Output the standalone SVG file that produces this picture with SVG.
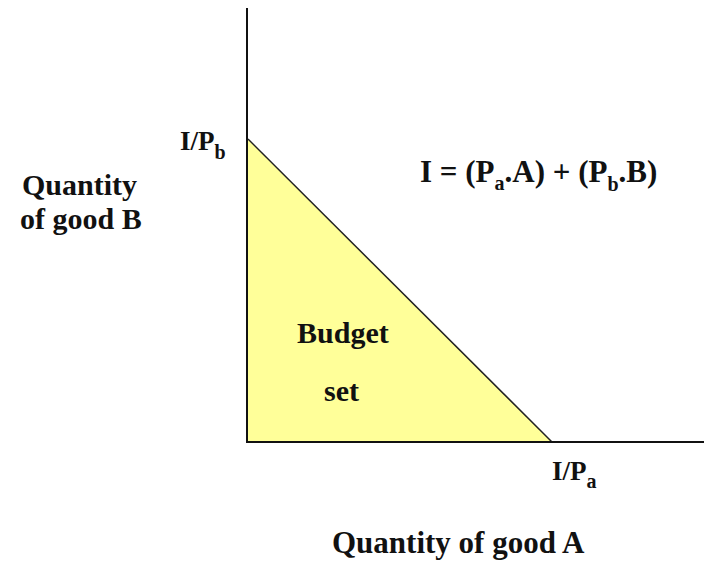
<svg xmlns="http://www.w3.org/2000/svg" width="704" height="561" viewBox="0 0 704 561">
<style>
text{font-family:'Liberation Serif','Times New Roman',serif;font-weight:700;fill:#111}
.sub{font-size:20px}
.ax{stroke:#111;stroke-width:2;fill:none}
</style>
<rect width="704" height="561" fill="#fff"/>
<g id="budget-set">
<polygon points="248,139 248,442 552,442" fill="#ffff99"/>
<line x1="248" y1="139" x2="552" y2="442" stroke="#222" stroke-width="1.5"/>
<text x="297" y="343" font-size="30">Budget</text>
<text x="324" y="401" font-size="30">set</text>
</g>
<g id="axes">
<line class="ax" x1="247" y1="8" x2="247" y2="443"/>
<line class="ax" x1="246" y1="442" x2="704" y2="442"/>
</g>
<g id="label-ipb">
<text x="180" y="150" font-size="27">I/P<tspan class="sub" font-size="19" dy="9">b</tspan></text>
</g>
<g id="label-ipa">
<text x="552" y="480" font-size="27">I/P<tspan class="sub" font-size="19" dy="8">a</tspan></text>
</g>
<g id="label-y">
<text x="22" y="195" font-size="30">Quantity</text>
<text x="20" y="229" font-size="30">of good B</text>
</g>
<g id="label-x">
<text x="332" y="553" font-size="31">Quantity of good A</text>
</g>
<g id="equation">
<text x="420" y="182" font-size="31">I = (P<tspan class="sub" font-size="21" dy="8">a</tspan><tspan dy="-8">.A) + (P</tspan><tspan class="sub" font-size="21" dy="9">b</tspan><tspan dy="-9">.B)</tspan></text>
</g>
</svg>
